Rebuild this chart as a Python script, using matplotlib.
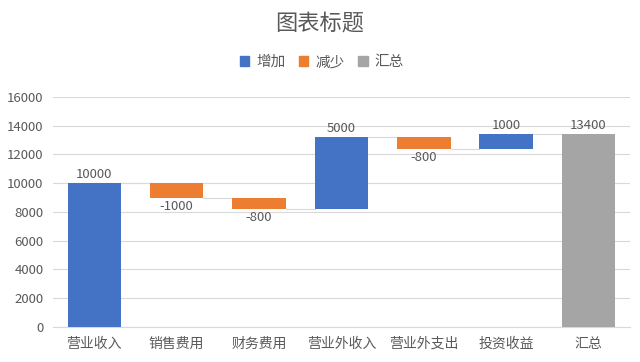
import matplotlib
matplotlib.use("Agg")
import matplotlib.pyplot as plt
from matplotlib.patches import Patch
import numpy as np

plt.rcParams['font.family'] = ['Noto Sans CJK SC', 'DejaVu Sans']

categories = ["营业收入", "销售费用", "财务费用", "营业外收入", "营业外支出", "投资收益", "汇总"]
changes = [10000, -1000, -800, 5000, -800, 1000]
total = 13400
yticks = [0, 2000, 4000, 6000, 8000, 10000, 12000, 14000, 16000]

blue = "#4472C4"
orange = "#ED7D31"
grey = "#A5A5A5"
text_c = "#595959"
line_c = "#D9D9D9"

fig = plt.figure(figsize=(6.4, 3.62), dpi=100)
ax = fig.add_axes([0.083, 0.097, 0.901, 0.635])

x = np.arange(len(categories))
width = 0.65

# running total -> bottoms of floating bars
ends = np.cumsum(changes)
starts = ends - np.array(changes)
bottoms = np.minimum(starts, ends)
heights = np.abs(changes)
colors = [blue if v >= 0 else orange for v in changes]

ax.bar(x[:-1], heights, width, bottom=bottoms, color=colors, zorder=3)
ax.bar(x[-1], total, width, color=grey, zorder=3)

# connectors
levels = list(ends)
for i in range(len(levels)):
    ax.plot([x[i] + width / 2, x[i + 1] - width / 2], [levels[i], levels[i]],
            color=line_c, lw=0.8, zorder=2)

# labels
for i, v in enumerate(changes):
    if v >= 0:
        ax.text(x[i], bottoms[i] + heights[i] + 150, str(v), ha="center", va="bottom",
                fontsize=9.5, color=text_c)
    else:
        ax.text(x[i], bottoms[i] - 150, str(v), ha="center", va="top",
                fontsize=9.5, color=text_c)
ax.text(x[-1], total + 150, str(total), ha="center", va="bottom", fontsize=9.5, color=text_c)

ax.set_xlim(-0.5, len(categories) - 0.5)
ax.set_ylim(0, 16000)
ax.set_yticks(yticks)
ax.set_xticks(x)
ax.set_xticklabels(categories, fontsize=10, color=text_c)
ax.tick_params(axis="y", labelsize=9.5, colors=text_c, length=0, pad=7)
ax.tick_params(axis="x", length=0, pad=7)
ax.yaxis.grid(True, color=line_c, lw=0.8, zorder=0)
for s in ["top", "right", "left"]:
    ax.spines[s].set_visible(False)
ax.spines["bottom"].set_color(line_c)

fig.text(0.5, 0.935, "图表标题", ha="center", va="center", fontsize=16, color=text_c)

handles = [Patch(color=blue, label="增加"), Patch(color=orange, label="减少"), Patch(color=grey, label="汇总")]
fig.legend(handles=handles, loc="center", bbox_to_anchor=(0.503, 0.828), ncol=3, frameon=False,
           fontsize=10.5, handlelength=0.65, handleheight=0.65, handletextpad=0.5, columnspacing=0.9,
           labelcolor=text_c)

fig.savefig("out.png", dpi=100, facecolor="white")
